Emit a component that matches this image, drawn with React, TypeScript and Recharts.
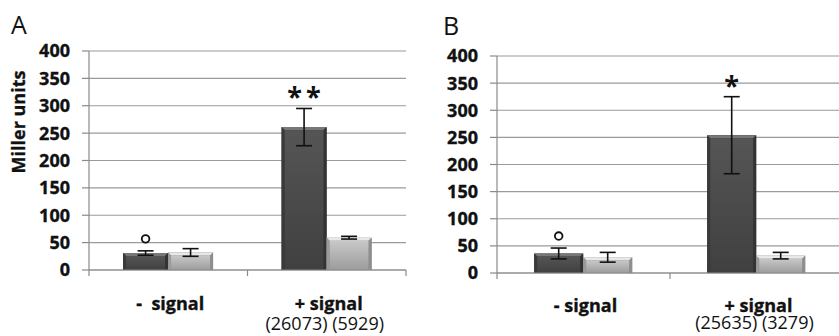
import { Bar, BarChart, CartesianGrid, ErrorBar, LabelList, XAxis, YAxis } from 'recharts';

// panel A
const catsA = ['-  signal', '+ signal'];
const subsA = ['', '(26073) (5929)'];
const darkA = [31, 261];
const darkErrA = [4, 34];
const lightA = [32, 59];
const lightErrA = [7, 2.5];
const marksA = ['o', '**'];

// panel B
const catsB = ['- signal', '+ signal'];
const subsB = ['', '(25635) (3279)'];
const darkB = [36, 254];
const darkErrB = [10, 71];
const lightB = [29, 32];
const lightErrB = [9, 6];
const marksB = ['o', '*'];

const yTicks = [0, 50, 100, 150, 200, 250, 300, 350, 400];

const font = '"Open Sans", "DejaVu Sans", sans-serif';
const axisGrey = '#8a8a8a';

function BevelBar(props: any) {
  const { x, y, width, height, tone } = props;
  if (!height || height <= 0) return null;
  const b = Math.min(3, height / 3);
  const dark = tone === 'dark';
  const id = dark ? 'gDark' : 'gLight';
  return (
    <g>
      <rect x={x} y={y} width={width} height={height} fill={dark ? '#2c2c2c' : '#7d7d7d'} />
      <polygon
        points={`${x},${y} ${x + width},${y} ${x + width - b},${y + b} ${x + b},${y + b}`}
        fill={dark ? '#777' : '#e8e8e8'}
      />
      <polygon
        points={`${x},${y} ${x + b},${y + b} ${x + b},${y + height} ${x},${y + height}`}
        fill={dark ? '#3a3a3a' : '#9a9a9a'}
      />
      <polygon
        points={`${x + width},${y} ${x + width - b},${y + b} ${x + width - b},${y + height} ${x + width},${y + height}`}
        fill={dark ? '#333' : '#8e8e8e'}
      />
      <rect x={x + b} y={y + b} width={width - 2 * b} height={height - b} fill={`url(#${id})`} />
    </g>
  );
}

function Panel(p: {
  left: number;
  width: number;
  axisW: number;
  top: number;
  xAxisH: number;
  right: number;
  cats: string[];
  subs: string[];
  dark: number[];
  darkErr: number[];
  light: number[];
  lightErr: number[];
  marks: string[];
  line1: number;
  line2: number;
  tickMargin: number;
}) {
  const data = p.cats.map((c, i) => ({
    cat: c,
    sub: p.subs[i],
    dark: p.dark[i],
    darkErr: p.darkErr[i],
    light: p.light[i],
    lightErr: p.lightErr[i],
  }));
  const band = (p.width - p.axisW - p.right) / p.cats.length;

  const XTick = (t: any) => {
    const { x, y, payload, index } = t;
    const off = payload && payload.offset ? payload.offset : band / 2;
    const last = index === p.cats.length - 1;
    return (
      <g>
        <line x1={x - off} y1={y} x2={x - off} y2={y + 6} stroke={axisGrey} strokeWidth={1.2} />
        {last && <line x1={x + off} y1={y} x2={x + off} y2={y + 6} stroke={axisGrey} strokeWidth={1.2} />}
        <text x={x + 2} y={y + p.line1} textAnchor="middle" fontFamily={font} fontWeight="bold" fontSize={18} fill="#111" stroke="#111" strokeWidth={0.35} style={{ whiteSpace: 'pre' }}>
          {payload.value}
        </text>
        {data[index] && data[index].sub && (
          <text x={x - 2} y={y + p.line2} textAnchor="middle" fontFamily={font} fontSize={18} fill="#111">
            {data[index].sub}
          </text>
        )}
      </g>
    );
  };

  const Mark = (lp: any) => {
    const vb = lp.viewBox || lp;
    const { x, y, width, height } = vb;
    const i = lp.index;
    const m = p.marks[i];
    if (!m || !height) return null;
    const errPx = (p.darkErr[i] * height) / p.dark[i];
    const top = y - errPx;
    const cx = x + width / 2;
    if (m === 'o') {
      return <circle cx={cx} cy={top - 12} r={3.8} fill="#fff" stroke="#111" strokeWidth={1.8} />;
    }
    const ls = m.length > 1 ? 4 : 0;
    return (
      <text x={cx + ls / 2} y={top - 2} textAnchor="middle" fontFamily={font} fontWeight="bold" fontSize={27} fill="#111" letterSpacing={ls}>
        {m}
      </text>
    );
  };

  return (
    <div style={{ position: 'absolute', left: p.left, top: 0 }}>
      <BarChart
        width={p.width}
        height={336}
        data={data}
        margin={{ top: p.top, right: p.right, bottom: 0, left: 0 }}
        barCategoryGap="21.5%"
        barGap={0}
      >
        <defs>
          <linearGradient id="gDark" x1="0" y1="0" x2="0" y2="1">
            <stop offset="0%" stopColor="#555" />
            <stop offset="100%" stopColor="#404040" />
          </linearGradient>
          <linearGradient id="gLight" x1="0" y1="0" x2="0" y2="1">
            <stop offset="0%" stopColor="#c8c8c8" />
            <stop offset="100%" stopColor="#9c9c9c" />
          </linearGradient>
        </defs>
        <CartesianGrid vertical={false} stroke="#9a9a9a" strokeWidth={1.2} />
        <XAxis
          dataKey="cat"
          height={p.xAxisH}
          axisLine={{ stroke: axisGrey, strokeWidth: 1.2 }}
          tickLine={false}
          tickSize={0}
          tickMargin={0}
          interval={0}
          tick={XTick}
        />
        <YAxis
          width={p.axisW}
          domain={[0, 400]}
          ticks={yTicks}
          interval={0}
          axisLine={{ stroke: axisGrey, strokeWidth: 1.2 }}
          tickLine={{ stroke: axisGrey, strokeWidth: 1.2 }}
          tickSize={7}
          tickMargin={p.tickMargin}
          tick={{ fontFamily: font, fontWeight: 'bold', fontSize: 18, fill: '#111', stroke: '#111', strokeWidth: 0.35 }}
        />
        <Bar dataKey="dark" isAnimationActive={false} shape={(s: any) => <BevelBar {...s} tone="dark" />}>
          <ErrorBar dataKey="darkErr" width={8} stroke="#111" strokeWidth={1.6} />
          <LabelList dataKey="dark" content={Mark} />
        </Bar>
        <Bar dataKey="light" isAnimationActive={false} shape={(s: any) => <BevelBar {...s} tone="light" />}>
          <ErrorBar dataKey="lightErr" width={8} stroke="#111" strokeWidth={1.6} />
        </Bar>
      </BarChart>
    </div>
  );
}

export default function App() {
  return (
    <div style={{ position: 'absolute', left: 0, top: 0, width: 839, height: 336, overflow: 'hidden', background: '#fff' }}>
      <Panel
        left={0}
        width={420}
        axisW={89}
        top={51}
        xAxisH={66}
        right={14}
        cats={catsA}
        subs={subsA}
        dark={darkA}
        darkErr={darkErrA}
        light={lightA}
        lightErr={lightErrA}
        marks={marksA}
        line1={40}
        line2={60}
        tickMargin={12}
      />
      <Panel
        left={420}
        width={423}
        axisW={77}
        top={56}
        xAxisH={63}
        right={0}
        cats={catsB}
        subs={subsB}
        dark={darkB}
        darkErr={darkErrB}
        light={lightB}
        lightErr={lightErrB}
        marks={marksB}
        line1={39}
        line2={56}
        tickMargin={12}
      />
      <svg width={839} height={336} style={{ position: 'absolute', left: 0, top: 0, pointerEvents: 'none' }}>
        <text x={11} y={34} fontFamily={font} fontSize={25} fill="#111">A</text>
        <text x={443} y={35} fontFamily={font} fontSize={25} fill="#111">B</text>
        <text x={25} y={122} transform="rotate(-90 25 122)" textAnchor="middle" fontFamily={font} fontWeight="bold" fontSize={18} fill="#111" stroke="#111" strokeWidth={0.35}>
          Miller units
        </text>
      </svg>
    </div>
  );
}
